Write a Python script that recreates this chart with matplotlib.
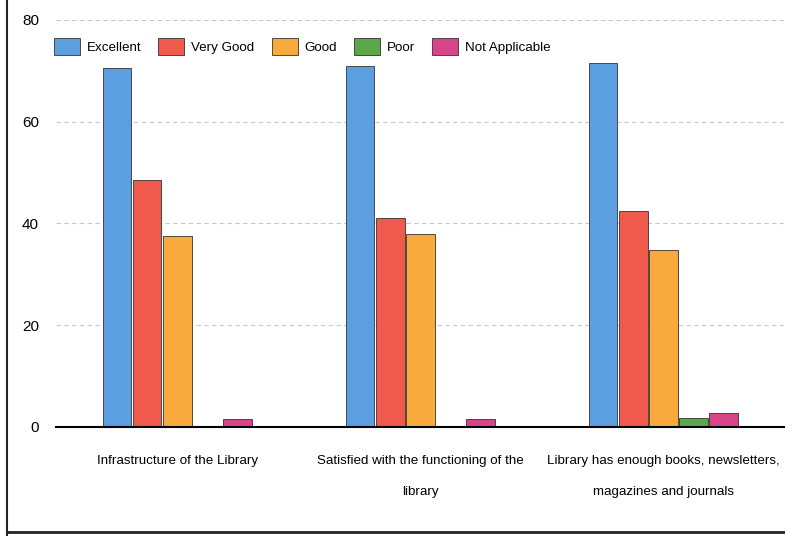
import matplotlib.pyplot as plt
import numpy as np

categories = ['Infrastructure of the Library',
              'Satisfied with the functioning of the\nlibrary',
              'Library has enough books, newsletters,\nmagazines and journals']
ratings = ['Excellent', 'Very Good', 'Good', 'Poor', 'Not Applicable']
excellent = [70.5, 71.0, 71.5]
very_good = [48.5, 41.0, 42.5]
good = [37.5, 38.0, 34.7]
poor = [0.0, 0.0, 1.7]
not_applicable = [1.6, 1.5, 2.7]
colors = ['#5b9fe0', '#f05a4c', '#f8aa3c', '#5aa84a', '#d8448a']

plt.rcParams['font.family'] = ['Liberation Sans', 'DejaVu Sans']

fig = plt.figure(figsize=(7.85, 5.36), dpi=100)
ax = fig.add_axes([0.071, 0.2034, 0.929, 0.7593])

x = np.arange(len(categories))
width = 0.124
series = [excellent, very_good, good, poor, not_applicable]
for i, (vals, c, lab) in enumerate(zip(series, colors, ratings)):
    ax.bar(x + (i - 2) * width, vals, width * 0.95, color=c, edgecolor='#333333',
           linewidth=0.6, label=lab, zorder=3)

ax.set_xlim(-0.5, 2.5)
ax.set_ylim(0, 80)
ax.set_yticks([0, 20, 40, 60, 80])
ax.set_xticks(x)
ax.set_xticklabels(categories, fontsize=9.6, linespacing=3.1)
ax.tick_params(axis='y', labelsize=11, length=0, pad=12)
ax.tick_params(axis='x', length=0, pad=20)
ax.grid(axis='y', linestyle=(0, (4, 3)), color='#c8c8c8', linewidth=0.8, zorder=0)
for s in ['top', 'right', 'left']:
    ax.spines[s].set_visible(False)
ax.spines['bottom'].set_linewidth(1.5)
ax.spines['bottom'].set_zorder(4)

ax.legend(loc='upper left', bbox_to_anchor=(-0.010, 0.968), ncol=5, frameon=False,
          fontsize=9.6, handlelength=1.95, handleheight=1.6, columnspacing=1.3,
          handletextpad=0.5, borderaxespad=0)

# scanned page frame
fig.add_artist(plt.Line2D([0.009, 0.009], [0.0, 1.0], color='#222222', linewidth=1.5))
fig.add_artist(plt.Line2D([0.009, 1.0], [0.008, 0.008], color='#222222', linewidth=2.0))

fig.savefig('out.png', dpi=100)
